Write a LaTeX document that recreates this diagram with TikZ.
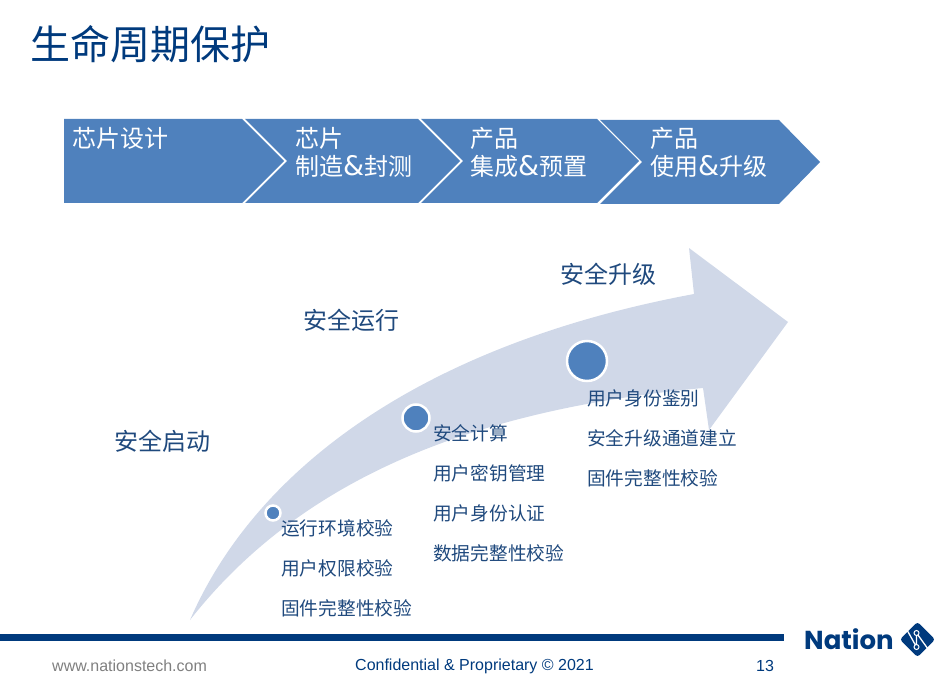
\documentclass[tikz,border=0pt]{standalone}
\usepackage{fontspec}
\setmainfont{Liberation Sans}
\newfontfamily\cjk{Noto Sans CJK SC}
\newfontfamily\logofont{Poppins}
\newfontfamily\ampfont{DejaVu Sans}
\usetikzlibrary{positioning,calc}
\definecolor{stepblue}{HTML}{4F81BD}
\definecolor{bandblue}{HTML}{D0D8E8}
\definecolor{navy}{HTML}{003A7D}
\definecolor{inkblue}{HTML}{1F497D}
\definecolor{footgrey}{HTML}{7F7F7F}
\newcommand{\bigamp}{{\ampfont\fontsize{27}{28}\selectfont\&}}
\begin{document}
\begin{tikzpicture}[x=1pt,y=-1pt,
steplabel/.style={text=white,font=\fontsize{24}{28}\selectfont\cjk,align=left,anchor=north west,inner sep=0pt},
phase/.style={text=inkblue,font=\fontsize{24}{28}\selectfont\cjk,anchor=west,inner sep=0pt},
items/.style={text=inkblue,font=\fontsize{18.7}{40}\selectfont\cjk,align=left,anchor=north west,inner sep=0pt},
dot/.style={circle,fill=stepblue,draw=white,line width=2.5pt,inner sep=0pt},
foot/.style={font=\fontsize{16}{18}\selectfont,inner sep=0pt}]
\useasboundingbox (0,0) rectangle (942,679);
\node[text=navy,font=\fontsize{40}{44}\selectfont\cjk,anchor=west,inner sep=0pt] (title) at (30,44) {生命周期保护};
% process steps
\fill[stepblue] (64,119)--(242,119)--(284,161)--(242,203)--(64,203)--cycle;
\fill[stepblue] (245,119)--(418,119)--(460,161)--(418,203)--(245,203)--(287,161)--cycle;
\fill[stepblue] (421,119)--(597,119)--(639,161)--(597,203)--(421,203)--(463,161)--cycle;
\fill[stepblue] (600,120)--(779,120)--(820,162)--(779,204)--(600,204)--(642,162)--cycle;
\node[steplabel] (s1) at (72,127) {芯片设计};
\node[steplabel] (s2) at (295,127) {芯片\\制造\bigamp 封测};
\node[steplabel] (s3) at (470,127) {产品\\集成\bigamp 预置};
\node[steplabel] (s4) at (650,127) {产品\\使用\bigamp 升级};
% curved arrow
\fill[bandblue] (190,620) .. controls (255,470) and (420,345) .. (694,294)
  --(689,248)--(788,322)--(709,430)--(703,388)
  .. controls (470,410) and (300,480) .. cycle;
\node[dot,minimum size=15pt] (d1) at (273,513) {};
\node[dot,minimum size=27pt] (d2) at (416,418) {};
\node[dot,minimum size=40pt] (d3) at (587,361) {};
\node[phase] (p1) at (114,441) {安全启动};
\node[phase] (p2) at (303,320) {安全运行};
\node[phase] (p3) at (560,274) {安全升级};
\node[items] (i1) at (281,519) {运行环境校验\\用户权限校验\\固件完整性校验};
\node[items] (i2) at (433,424) {安全计算\\用户密钥管理\\用户身份认证\\数据完整性校验};
\node[items] (i3) at (587,389) {用户身份鉴别\\安全升级通道建立\\固件完整性校验};
% footer
\fill[navy] (0,634) rectangle (784,641);
\node[foot,text=footgrey,anchor=west] (web) at (52,666) {www.nationstech.com};
\node[foot,text=navy,anchor=west] (conf) at (355,666) {Confidential \& Proprietary © 2021};
\node[foot,text=navy,anchor=west] (page) at (756,666) {13};
% logo
\node[text=navy,font=\fontsize{26}{28}\selectfont\logofont\bfseries,anchor=west,inner sep=0pt] (brand) at (804,639) {Nation};
\node[fill=navy,rounded corners=3pt,rotate=45,minimum size=25pt,inner sep=0pt] (mark) at (917.5,639.5) {};
\coordinate (knotA) at (916.5,633);
\coordinate (knotB) at (916.5,647);
\draw[white,line width=1.3pt] (907,630)--(knotB)--(knotA)--(928,649);
\draw[white,line width=1pt,fill=navy] (knotA) circle (2.5pt) (knotB) circle (2.5pt);
\end{tikzpicture}
\end{document}
